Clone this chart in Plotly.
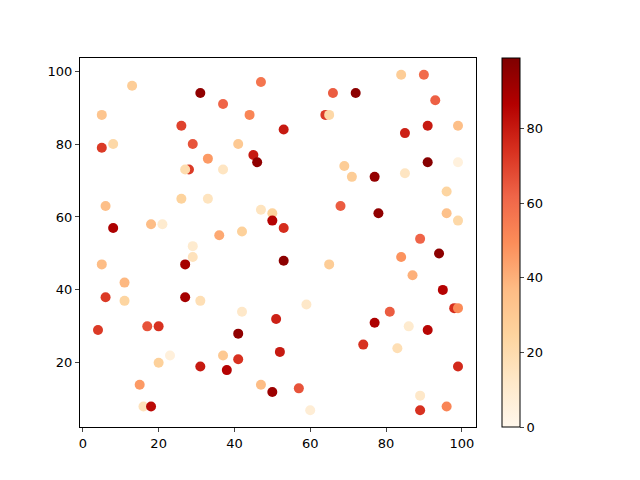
import plotly.graph_objects as go

# scatter points, value drives the OrRd colour
x_vals = [13, 31, 47, 37, 5, 44, 26, 5, 8, 29, 41, 33, 45, 46, 28, 27, 37,
          84, 90, 66, 72, 93, 64, 65, 53, 91, 99, 85, 69, 71, 77, 85, 91, 99,
          6, 26, 33, 47, 50, 50, 8, 18, 21, 36, 42, 29, 29, 27, 5, 11, 6, 11, 27, 31, 42,
          96, 68, 78, 96, 99, 53, 89, 84, 94, 53, 65, 87, 95, 59, 98, 99,
          51, 4, 17, 20, 41, 23, 20, 37, 41, 31, 38, 15, 47, 50, 16, 18,
          81, 77, 86, 91, 74, 83, 52, 99, 57, 60, 89, 89, 96]
y_vals = [96, 94, 97, 91, 88, 88, 85, 79, 80, 80, 80, 76, 77, 75, 73, 73, 73,
          99, 99, 94, 94, 92, 88, 88, 84, 85, 85, 83, 74, 71, 71, 72, 75, 75,
          63, 65, 65, 62, 61, 59, 57, 58, 58, 55, 56, 52, 49, 47, 47, 42, 38, 37, 38, 37, 34,
          67, 63, 61, 61, 59, 57, 54, 49, 50, 48, 47, 44, 40, 36, 35, 35,
          32, 29, 30, 30, 28, 22, 20, 22, 21, 19, 18, 14, 14, 12, 8, 8,
          34, 31, 30, 29, 25, 24, 23, 19, 13, 7, 11, 7, 8]
c_vals = [28, 95, 57, 62, 32, 52, 70, 72, 22, 66, 30, 46, 80, 95, 72, 20, 14,
          28, 60, 64, 96, 63, 72, 22, 80, 80, 35, 78, 28, 28, 94, 14, 97, 5,
          35, 25, 15, 15, 25, 86, 88, 36, 10, 42, 26, 10, 16, 90, 36, 38, 72, 24, 90, 18, 12,
          24, 64, 95, 34, 22, 75, 62, 48, 96, 96, 28, 40, 86, 12, 75, 50,
          78, 72, 66, 74, 95, 6, 26, 30, 74, 80, 86, 46, 36, 92, 16, 84,
          64, 88, 10, 85, 74, 18, 80, 76, 66, 8, 12, 74, 52]
tick_vals = [0, 20, 40, 60, 80, 100]
cbar_ticks = [0, 20, 40, 60, 80]

fig = go.Figure()
fig.add_trace(go.Scatter(
    x=x_vals, y=y_vals, mode='markers',
    marker=dict(
        size=10, color=c_vals, colorscale='OrRd', cmin=0, cmax=99,
        line=dict(width=0),
        colorbar=dict(
            x=1.066, xanchor='left', xpad=0, y=0, yanchor='bottom', ypad=0,
            len=1, thickness=18, outlinecolor='black', outlinewidth=1,
            tickvals=cbar_ticks, ticks='outside', ticklen=4,
            tickfont=dict(size=13, color='black'),
        ),
    ),
    showlegend=False,
))

axis_style = dict(
    showgrid=False, zeroline=False, showline=True, linecolor='black',
    linewidth=1, mirror=True, ticks='outside', ticklen=4,
    tickvals=tick_vals, tickfont=dict(size=13, color='black'),
)

# the page body adds 8px, so margins are shifted to land the axes where the reference has them
fig.update_layout(
    width=640, height=480,
    margin=dict(l=72, r=172, t=50, b=61),
    plot_bgcolor='white', paper_bgcolor='white',
    font=dict(family='DejaVu Sans', color='black'),
    xaxis=dict(range=[-0.75, 103.75], **axis_style),
    yaxis=dict(range=[2.4, 103.6], **axis_style),
)

fig.write_html("out.html")
